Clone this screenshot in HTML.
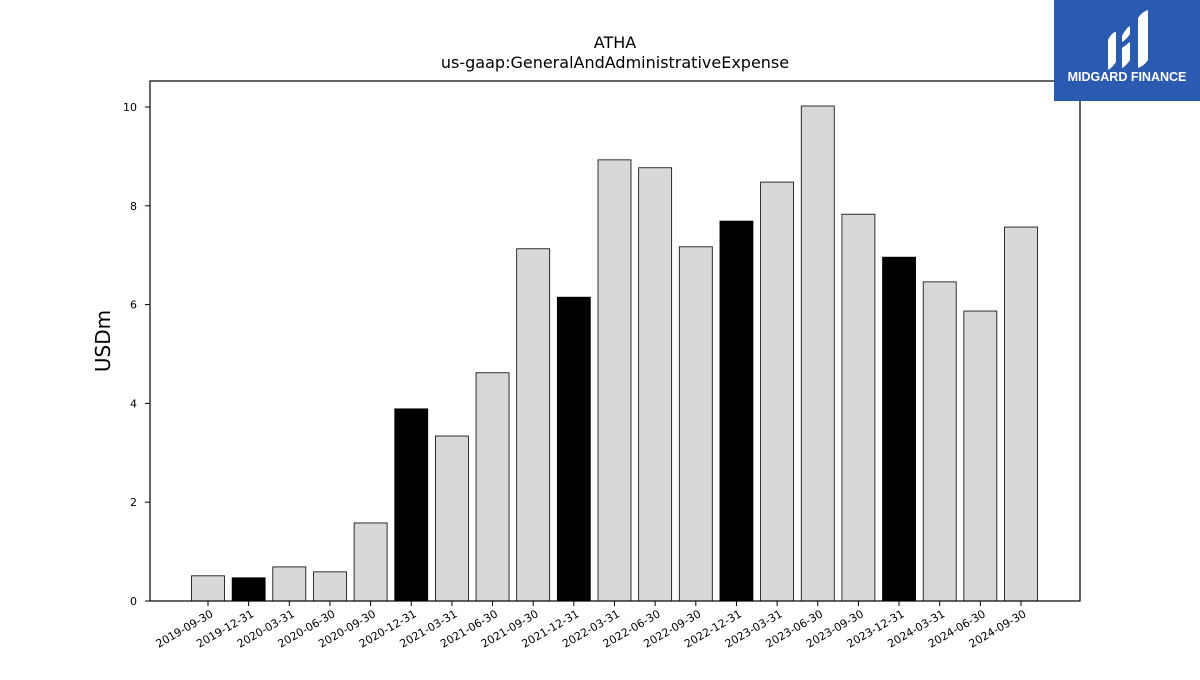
<!DOCTYPE html>
<html><head><meta charset="utf-8"><style>
body{margin:0;background:#fff;font-family:"Liberation Sans","DejaVu Sans",sans-serif;}
</style></head><body>
<svg id="chart" width="1200" height="675" xmlns="http://www.w3.org/2000/svg" style="font-family:'DejaVu Sans','Liberation Sans',sans-serif">
<text x="615" y="48" text-anchor="middle" font-size="16">ATHA</text>
<text x="615" y="68" text-anchor="middle" font-size="16">us-gaap:GeneralAndAdministrativeExpense</text>
<text transform="translate(110,341) rotate(-90)" text-anchor="middle" font-size="20">USDm</text>
<g id="bars"></g>
<g id="yticks"></g>
<g id="xticks"></g>
<rect x="150" y="81" width="930" height="520" fill="none" stroke="#000" stroke-width="1.2"/>
<g>
<rect x="1054" y="0" width="146" height="101" fill="#2b5bb0"/>
<path d="M1108 40 q4 -8 8 -8 v30 q-4 6 -8 8 z M1122 36 q4 -8 8 -10 v8 q-4 6 -8 8z M1122 48 l8 -6 v18 q-4 6 -8 8z M1138 18 q4 -6 10 -8 v50 q-4 6 -10 8z" fill="#fff"/>
<text x="1127" y="81" text-anchor="middle" font-size="12.5" font-weight="bold" fill="#fff" font-family="Liberation Sans, sans-serif">MIDGARD FINANCE</text>
</g>
</svg>
<script>
const categories=["2019-09-30","2019-12-31","2020-03-31","2020-06-30","2020-09-30","2020-12-31","2021-03-31","2021-06-30","2021-09-30","2021-12-31","2022-03-31","2022-06-30","2022-09-30","2022-12-31","2023-03-31","2023-06-30","2023-09-30","2023-12-31","2024-03-31","2024-06-30","2024-09-30"];
const values=[0.51,0.47,0.69,0.59,1.58,3.89,3.34,4.62,7.13,6.15,8.93,8.77,7.17,7.69,8.48,10.02,7.83,6.96,6.46,5.87,7.57];
const yTicks=[0,2,4,6,8,10];
const NS="http://www.w3.org/2000/svg";
const y=v=>601-v*49.4;
const x=i=>208+i*40.65;
const bw=33;
const bars=document.getElementById('bars'),yt=document.getElementById('yticks'),xt=document.getElementById('xticks');
values.forEach((v,i)=>{
 const r=document.createElementNS(NS,'rect');
 
 
 r.setAttribute('x',x(i)-bw/2);r.setAttribute('y',y(v));r.setAttribute('width',bw);r.setAttribute('height',601-y(v));
 r.setAttribute('fill',categories[i].endsWith('12-31')?'#000':'#d8d8d8');r.setAttribute('stroke','#000');r.setAttribute('stroke-width','0.8');
 bars.appendChild(r);
});
yTicks.forEach(t=>{
 const l=document.createElementNS(NS,'line');
 
 
 l.setAttribute('x1',145);l.setAttribute('x2',150);l.setAttribute('y1',y(t));l.setAttribute('y2',y(t));l.setAttribute('stroke','#000');
 yt.appendChild(l);
 const tx=document.createElementNS(NS,'text');
 
 
 tx.setAttribute('x',137);tx.setAttribute('y',y(t)+4);tx.setAttribute('text-anchor','end');tx.setAttribute('font-size','11');
 tx.textContent=t;yt.appendChild(tx);
});
categories.forEach((c,i)=>{
 const l=document.createElementNS(NS,'line');
 
 
 l.setAttribute('x1',x(i));l.setAttribute('x2',x(i));l.setAttribute('y1',601);l.setAttribute('y2',606);l.setAttribute('stroke','#000');
 xt.appendChild(l);
 const tx=document.createElementNS(NS,'text');
 
 
 tx.setAttribute('text-anchor','end');tx.setAttribute('font-size','11');
 tx.setAttribute('transform','translate('+(x(i)+6)+',616) rotate(-30)');
 tx.textContent=c;xt.appendChild(tx);
});
</script>
</body></html>
